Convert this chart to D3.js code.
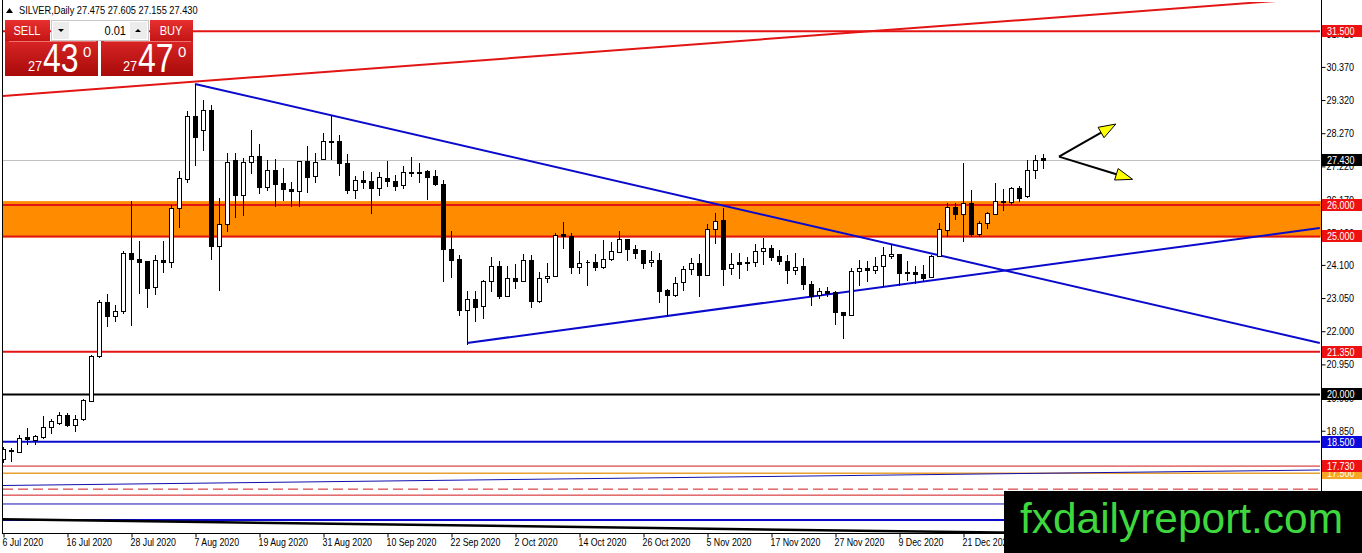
<!DOCTYPE html>
<html>
<head>
<meta charset="utf-8">
<script src="https://cdn.jsdelivr.net/npm/d3@7"></script>
<style>
	body { margin: 0; background: #fff; }
	svg { display: block; font-family: "Liberation Sans", Arial, sans-serif; }
</style>
</head>
<body>
<svg id="chart" width="1362" height="553"></svg>
<script>
// daily candles, 6 Jul 2020 onwards (one per trading day)
const opens = [17.94,18.24,18.18,18.64,18.57,18.64,18.97,19.09,19.36,19.04,19.23,19.80,21.22,22.91,22.49,22.65,24.49,24.29,24.21,23.40,
	24.26,24.19,25.90,26.81,28.80,28.38,29.01,24.71,25.39,27.41,26.32,27.37,27.56,26.56,27.11,26.68,26.51,26.45,27.40,26.90,
	27.46,28.03,28.01,27.34,26.48,26.79,26.76,26.53,26.86,26.76,26.64,27.03,27.05,27.06,26.92,26.67,24.61,24.29,22.68,23.03,
	22.81,23.58,24.08,23.12,23.70,23.60,24.26,22.97,23.68,23.76,25.07,25.03,24.03,24.20,24.19,24.03,24.28,24.50,24.93,24.61,
	24.58,24.19,24.26,23.31,23.16,23.55,23.98,24.16,23.79,25.24,25.53,24.00,24.18,24.18,24.19,24.55,24.65,24.39,24.23,23.95,
	24.07,23.49,23.15,23.26,23.23,22.60,22.52,23.91,24.00,23.95,24.07,24.39,24.45,23.89,23.89,23.82,23.71,24.37,25.21,25.93,
	25.72,26.05,25.07,25.44,25.72,26.13,26.09,26.55,26.29,27.11,27.475]
const highs = [18.35,18.31,18.70,18.93,18.72,19.30,19.23,19.43,19.41,19.34,19.86,21.26,23.00,23.17,22.84,24.53,26.11,24.86,24.21,24.40,
	24.86,26.00,27.06,28.98,29.83,29.33,29.17,26.21,27.64,27.64,27.50,28.38,27.93,27.43,27.46,27.16,26.71,27.40,27.85,27.64,
	28.27,28.80,28.22,27.62,26.93,27.08,27.03,27.03,27.40,26.95,27.22,27.53,27.34,27.10,27.11,26.79,25.16,24.40,23.26,23.26,
	23.63,24.34,24.23,24.08,24.12,24.44,24.42,23.89,24.16,25.10,25.47,25.10,24.55,24.26,24.44,24.90,24.84,25.18,24.93,24.74,
	24.58,24.53,24.49,23.35,23.73,24.08,24.31,24.44,25.40,25.74,25.90,24.47,24.47,24.34,24.76,24.95,24.74,24.58,24.40,24.47,
	24.31,23.58,23.36,23.39,23.26,22.60,24.00,24.26,24.23,24.34,24.68,24.76,24.45,24.21,24.05,24.10,24.42,25.42,26.05,26.05,
	27.32,26.48,25.50,25.79,26.69,26.50,26.58,26.61,27.43,27.59,27.605]
const lows = [17.85,17.88,18.17,18.42,18.42,18.62,18.77,19.05,19.00,18.85,19.20,19.78,21.19,22.17,22.31,22.59,22.21,23.21,22.78,23.17,
	23.89,24.03,25.29,26.72,27.27,27.74,24.29,23.31,25.16,25.63,25.69,27.00,26.37,26.48,25.98,26.14,25.98,25.98,26.40,26.72,
	27.46,27.46,26.95,26.37,26.21,26.53,25.74,26.30,26.60,26.48,26.55,26.93,26.74,26.18,26.64,23.60,23.73,22.52,21.59,22.33,
	22.41,23.28,23.05,23.10,23.36,23.60,22.78,22.92,23.55,23.74,24.65,23.84,23.84,23.45,23.95,24.00,24.26,24.50,24.26,24.31,
	24.00,24.08,22.94,22.47,23.10,23.29,23.81,23.13,23.79,24.79,23.47,23.81,23.70,23.95,24.05,24.12,24.26,24.12,23.52,23.81,
	23.34,22.84,23.05,23.10,22.24,21.78,22.52,23.47,23.60,23.84,23.42,24.31,23.47,23.63,23.52,23.60,23.71,24.37,25.03,25.56,
	24.86,25.00,25.00,25.28,25.72,25.84,26.02,26.13,26.26,26.85,27.155]
const closes = [18.26,18.22,18.62,18.58,18.67,18.98,19.15,19.34,19.04,19.23,19.83,21.22,22.91,22.49,22.65,24.49,24.29,24.19,23.36,24.26,
	24.19,25.90,26.84,28.80,28.16,29.01,24.71,25.39,27.37,26.32,27.37,27.56,26.56,27.11,26.66,26.50,26.45,27.40,26.88,27.37,
	28.01,27.99,27.32,26.46,26.79,26.72,26.53,26.87,26.76,26.60,27.03,27.01,27.00,26.88,26.67,24.61,24.26,22.68,23.03,22.76,
	23.58,24.08,23.12,23.70,23.60,24.26,22.97,23.70,23.76,25.05,25.00,24.03,24.16,24.19,24.03,24.29,24.53,24.93,24.61,24.47,
	24.16,24.26,23.28,23.16,23.54,23.98,24.16,23.79,25.24,25.50,23.98,24.14,24.14,24.17,24.55,24.63,24.34,24.21,23.95,24.03,
	23.49,23.13,23.26,23.21,22.60,22.52,23.91,24.00,23.95,24.07,24.40,24.45,23.84,23.84,23.81,23.68,24.37,25.24,25.93,25.71,
	26.05,25.07,25.44,25.74,26.13,26.08,26.55,26.23,27.11,27.43,27.430]

const dateTickIdx = [0, 8, 16, 24, 32, 40, 48, 56, 64, 72, 80, 88, 96, 104, 112, 120]
const dateLabels = ["6 Jul 2020", "16 Jul 2020", "28 Jul 2020", "7 Aug 2020", "19 Aug 2020", "31 Aug 2020", "10 Sep 2020", "22 Sep 2020",
	"2 Oct 2020", "14 Oct 2020", "26 Oct 2020", "5 Nov 2020", "17 Nov 2020", "27 Nov 2020", "9 Dec 2020", "21 Dec 2020"]
const priceTicks = [31.42, 30.37, 29.32, 28.27, 27.22, 26.17, 25.12, 24.10, 23.05, 22.00, 20.95, 19.90, 18.85, 17.80]

// horizontal levels drawn on the chart
const zoneTop = 26.12, zoneBottom = 24.97
const levelPrices = [31.5, 26.0, 25.0, 21.35, 20.0, 18.5, 17.73, 17.5, 17.0, 16.81, 16.53, 16.02]
// price tags on the right scale (drawn in this order)
const tagPrices = [31.5, 27.43, 26.0, 25.0, 21.35, 20.0, 18.5, 17.5, 17.73]

// trend lines as [bar index, price]
const redTrend = [[0, 29.45], [164.6, 32.56]]
const blueDown = [[24, 29.83], [164.6, 21.63]]
const blueUp = [[58, 21.63], [164.6, 25.27]]
const blueThin = [[0, 17.115], [164.6, 17.606]]
const blackSlope = [[0, 16.045], [164.6, 15.49]]
const arrowFrom = [132, 27.53]
const arrowTips = [[139.1, 28.56], [141.2, 26.81]]

const bid = 27.430, ask = 27.470

const RED = "#e31414", BLUE = "#0a0acd"

const svg = d3.select("#chart")
const x = d3.scaleLinear().domain([0, 164.625]).range([3, 1320])
const y = d3.scaleLinear().domain([15.611, 32.425]).range([533, 2])

//squeeze text to look like the narrow terminal font
function narrow(sel, k) {
	sel.each(function() {
		let w = this.getComputedTextLength()
		d3.select(this).attr("textLength", w * k).attr("lengthAdjust", "spacingAndGlyphs")
	})
}

svg.append("rect").attr("width", 1362).attr("height", 553).attr("fill", "#fff")

svg.append("clipPath").attr("id", "plotClip")
	.append("rect").attr("x", 3).attr("y", 2).attr("width", 1318).attr("height", 531)

const plot = svg.append("g").attr("clip-path", "url(#plotClip)")

//orange zone behind everything
plot.append("rect")
	.attr("x", 3).attr("width", 1318)
	.attr("y", y(zoneTop)).attr("height", y(zoneBottom) - y(zoneTop))
	.attr("fill", "#ff8c00")

const levelStyle = [
	{c: RED, w: 2}, {c: RED, w: 2}, {c: RED, w: 2}, {c: RED, w: 2}, {c: "#000", w: 2}, {c: BLUE, w: 2},
	{c: "#d01818", w: 1}, {c: "#e8a030", w: 1.5}, {c: "#d01818", w: 1, dash: "10,5"}, {c: "#d01818", w: 1},
	{c: "#1010b0", w: 1}, {c: BLUE, w: 2},
]

plot.append("line")
	.attr("x1", 3).attr("x2", 1320)
	.attr("y1", Math.round(y(closes[closes.length - 1])) + 0.5).attr("y2", Math.round(y(closes[closes.length - 1])) + 0.5)
	.attr("stroke", "#c0c0c0").attr("shape-rendering", "crispEdges")

plot.append("g").selectAll("line")
	.data(levelPrices)
	.join("line")
		.attr("x1", 3).attr("x2", 1320)
		.attr("y1", d => y(d)).attr("y2", d => y(d))
		.attr("stroke", (d, i) => levelStyle[i].c)
		.attr("stroke-width", (d, i) => levelStyle[i].w)
		.attr("stroke-dasharray", (d, i) => levelStyle[i].dash || null)

const trendLine = d3.line().x(d => x(d[0])).y(d => y(d[1]))
const trends = [
	{pts: redTrend, c: RED, w: 2},
	{pts: blueDown, c: BLUE, w: 2},
	{pts: blueUp, c: BLUE, w: 2},
	{pts: blueThin, c: "#1010b0", w: 1},
	{pts: blackSlope, c: "#000", w: 2.5},
]
plot.append("g").selectAll("path")
	.data(trends)
	.join("path")
		.attr("d", d => trendLine(d.pts))
		.attr("fill", "none")
		.attr("stroke", d => d.c)
		.attr("stroke-width", d => d.w)

// candles on top
const candles = opens.map((o, i) => ({i, o, h: highs[i], l: lows[i], c: closes[i]}))
const candleEls = plot.append("g").attr("shape-rendering", "crispEdges")
	.selectAll("g")
	.data(candles)
	.join("g")

candleEls.append("line")
	.attr("x1", d => Math.round(x(d.i)) + 0.5).attr("x2", d => Math.round(x(d.i)) + 0.5)
	.attr("y1", d => Math.round(y(d.h))).attr("y2", d => Math.round(y(d.l)) + 1)
	.attr("stroke", "#000")

candleEls.append("path")
	.attr("d", d => {
		let cx = Math.round(x(d.i))
		let top = Math.round(y(Math.max(d.o, d.c))) + 0.5
		let bot = Math.round(y(Math.min(d.o, d.c))) + 0.5
		return `M ${cx - 1.5} ${top} H ${cx + 2.5} V ${bot} H ${cx - 1.5} Z`
	})
	.attr("fill", d => d.c >= d.o ? "#fff" : "#000")
	.attr("stroke", "#000")

// yellow arrows
const arrows = plot.append("g")
arrowTips.forEach(tip => {
	let x0 = x(arrowFrom[0]), y0 = y(arrowFrom[1]), x1 = x(tip[0]), y1 = y(tip[1])
	let ang = Math.atan2(y1 - y0, x1 - x0), len = 17, half = 6
	let bx = x1 - Math.cos(ang) * len, by = y1 - Math.sin(ang) * len
	arrows.append("line").attr("x1", x0).attr("y1", y0).attr("x2", bx).attr("y2", by)
		.attr("stroke", "#000").attr("stroke-width", 2)
	let pts = [[x1, y1],
		[bx + Math.sin(ang) * half, by - Math.cos(ang) * half],
		[bx - Math.sin(ang) * half, by + Math.cos(ang) * half]]
	arrows.append("polygon").attr("points", pts.map(p => p.join(",")).join(" "))
		.attr("fill", "#ffff00").attr("stroke", "#000").attr("stroke-width", 1)
})

// frame + axes
svg.append("line").attr("x1", 2.5).attr("x2", 2.5).attr("y1", 0).attr("y2", 533)
	.attr("stroke", "#000").attr("shape-rendering", "crispEdges")

const yAxis = svg.append("g")
	.attr("transform", "translate(1321.5,0)")
	.call(d3.axisRight(y).tickValues(priceTicks).tickFormat(d3.format(".3f")).tickSize(4).tickSizeOuter(0))
yAxis.attr("font-family", null)
yAxis.select(".domain").attr("d", "M0,0V533")
yAxis.selectAll("text").attr("x", 5).attr("font-size", 11).call(narrow, 0.82)

const xAxis = svg.append("g")
	.attr("transform", "translate(0,533.5)")
	.call(d3.axisBottom(x).tickValues(dateTickIdx).tickFormat((d, k) => dateLabels[k]).tickSize(4).tickSizeOuter(0))
xAxis.attr("font-family", null)
xAxis.select(".domain").attr("d", "M2,0H1322")
xAxis.selectAll(".tick line").attr("transform", "translate(0.5,0)")
xAxis.selectAll("text").attr("text-anchor", "start").attr("x", -1).attr("y", 5).attr("font-size", 11).call(narrow, 0.8)

// price tags
const tagColor = {31.5: "#ee1111", 27.43: "#000", 26: "#ee1111", 25: "#ee1111", 21.35: "#ee1111", 20: "#000", 18.5: "#0a0adc", 17.5: "#f5a623", 17.73: "#ee1111"}
const tags = svg.append("g").selectAll("g")
	.data(tagPrices)
	.join("g")
		.attr("transform", d => `translate(1322,${Math.round(y(d))})`)
tags.append("rect").attr("x", 0).attr("y", -6).attr("width", 40).attr("height", 12).attr("fill", d => tagColor[d])
tags.append("text").attr("x", 5).attr("dy", "0.35em").attr("font-size", 11).attr("fill", "#fff")
	.text(d => d3.format(".3f")(d))
	.call(narrow, 0.82)

// header and one-click trading panel
const last = opens.length - 1
const f3 = d3.format(".3f")
const head = svg.append("g").attr("font-size", 11)
head.append("path").attr("d", "M6,13 L9.5,8 L13,13 Z").attr("fill", "#000")
head.append("text").attr("x", 19).attr("y", 14)
	.text(`SILVER,Daily  ${f3(opens[last])} ${f3(highs[last])} ${f3(lows[last])} ${f3(closes[last])}`)
	.call(narrow, 0.84)

const defs = svg.append("defs")
const g1 = defs.append("linearGradient").attr("id", "btnRed").attr("x1", 0).attr("x2", 0).attr("y1", 0).attr("y2", 1)
g1.append("stop").attr("offset", 0).attr("stop-color", "#e83030")
g1.append("stop").attr("offset", 1).attr("stop-color", "#c41414")
const g2 = defs.append("linearGradient").attr("id", "boxRed").attr("x1", 0).attr("x2", 0).attr("y1", 0).attr("y2", 1)
g2.append("stop").attr("offset", 0).attr("stop-color", "#d82424")
g2.append("stop").attr("offset", 1).attr("stop-color", "#a80a0a")

const panel = svg.append("g")
panel.append("rect").attr("x", 5).attr("y", 20).attr("width", 45).attr("height", 21).attr("fill", "url(#btnRed)")
panel.append("rect").attr("x", 150).attr("y", 20).attr("width", 43).attr("height", 21).attr("fill", "url(#btnRed)")
panel.append("rect").attr("x", 5).attr("y", 41).attr("width", 93).attr("height", 35).attr("fill", "url(#boxRed)")
panel.append("rect").attr("x", 101).attr("y", 41).attr("width", 92).attr("height", 35).attr("fill", "url(#boxRed)")
panel.append("line").attr("x1", 9).attr("x2", 96).attr("y1", 41.5).attr("y2", 41.5).attr("stroke", "#f07070")
panel.append("line").attr("x1", 104).attr("x2", 191).attr("y1", 41.5).attr("y2", 41.5).attr("stroke", "#f07070")
panel.append("rect").attr("x", 51.5).attr("y", 20.5).attr("width", 97).attr("height", 20).attr("fill", "#fff").attr("stroke", "#c8c8c8")
panel.append("rect").attr("x", 53).attr("y", 22).attr("width", 16).attr("height", 17).attr("fill", "#ececec")
panel.append("rect").attr("x", 130).attr("y", 22).attr("width", 17).attr("height", 17).attr("fill", "#ececec")
panel.append("path").attr("d", "M58,29 L64,29 L61,32 Z").attr("fill", "#000")
panel.append("path").attr("d", "M135,32 L141,32 L138,29 Z").attr("fill", "#000")
panel.append("text").attr("x", 126).attr("y", 35).attr("text-anchor", "end").attr("font-size", 13).text("0.01").call(narrow, 0.85)
panel.append("text").attr("x", 27).attr("y", 35).attr("text-anchor", "middle").attr("font-size", 13).attr("fill", "#fff").text("SELL").call(narrow, 0.85)
panel.append("text").attr("x", 171).attr("y", 35).attr("text-anchor", "middle").attr("font-size", 13).attr("fill", "#fff").text("BUY").call(narrow, 0.85)

function quote(px, x0) {
	let s = f3(px)
	let big = s.slice(3, 5), small = s.slice(0, 2), pip = s.slice(5)
	panel.append("text").attr("x", x0).attr("y", 71).attr("font-size", 15).attr("fill", "#fff").text(small).call(narrow, 0.85)
	panel.append("text").attr("x", x0 + 15).attr("y", 72).attr("font-size", 40).attr("fill", "#fff").text(big).call(narrow, 0.8)
	panel.append("text").attr("x", x0 + 55).attr("y", 57).attr("font-size", 15).attr("fill", "#fff").text(pip)
}
quote(bid, 28)
quote(ask, 123)

// site logo
svg.append("rect").attr("x", 1004).attr("y", 491).attr("width", 358).attr("height", 62).attr("fill", "#000")
svg.append("text").attr("x", 1020).attr("y", 533)
	.attr("font-size", 42)
	.attr("textLength", 323).attr("lengthAdjust", "spacingAndGlyphs")
	.attr("fill", "#3ed83e").text("fxdailyreport.com")
</script>
</body>
</html>
